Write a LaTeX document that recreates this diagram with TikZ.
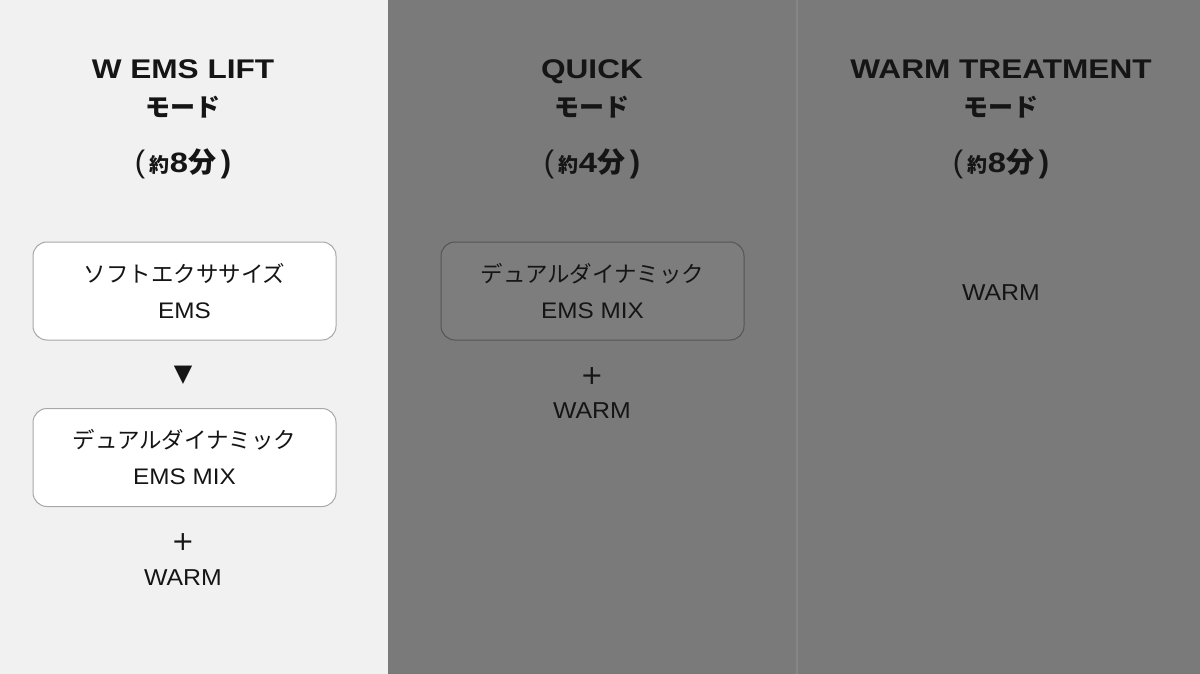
\documentclass[tikz,border=0pt]{standalone}
\usepackage{graphicx}
\usepackage{fontspec}
\setmainfont{Liberation Sans}
\newfontfamily\jp{Noto Sans CJK JP}
\newfontfamily\sym{DejaVu Sans}
\newcommand\hsr[1]{\scalebox{1.08}[1]{#1}}
\newcommand\hsb[1]{\scalebox{1.17}[1]{#1}}
\definecolor{leftbg}{HTML}{F1F1F1}
\definecolor{darkbg}{HTML}{7A7A7A}
\definecolor{divider}{HTML}{868686}
\definecolor{ink}{HTML}{151515}
\definecolor{lightborder}{HTML}{A8A8A8}
\definecolor{darkborder}{HTML}{555555}
\definecolor{darkfill}{HTML}{7D7D7D}
\tikzset{
  title/.style={inner sep=0pt, anchor=base, text=ink, font=\fontsize{27}{27}\selectfont\bfseries},
  jtitle/.style={inner sep=0pt, text=ink, font=\fontsize{25}{25}\selectfont\jp\bfseries},
  body/.style={inner sep=0pt, text=ink, font=\fontsize{23}{23}\selectfont},
  plus/.style={inner sep=0pt, text=ink, font=\fontsize{27}{27}\selectfont\sym},
  modebox/.style={rounded corners=14pt, minimum width=303pt, minimum height=98pt,
    align=center, text=ink, inner sep=0pt, line width=1pt,
    font=\fontsize{22.5}{36}\selectfont},
  lightbox/.style={modebox, draw=lightborder, fill=white},
  darkbox/.style={modebox, draw=darkborder, fill=darkfill},
}
\newcommand\dur[1]{{\fontsize{28}{28}\selectfont{\fontsize{31}{31}\selectfont(}\,{\jp\bfseries\fontsize{20}{20}\selectfont 約}\bfseries\hsb{#1}{\jp\bfseries 分}\,{\fontsize{31}{31}\selectfont)}}}
\begin{document}
\begin{tikzpicture}[x=1pt,y=-1pt]
\useasboundingbox (0,0) rectangle (1200,674);
\fill[leftbg] (0,0) rectangle (388,674);
\fill[darkbg] (388,0) rectangle (1200,674);
\draw[divider, line width=1.2pt] (797,0) -- (797,674);

% column 1
\node[title] (t1) at (183,79) {\hsb{W EMS LIFT}};
\node[jtitle] (m1) at (183,107) {モード};
\node[body] (d1) at (183,164) {\dur{8}};
\node[lightbox] (b1) at (184.5,291) {{\jp ソフトエクササイズ}\\\hsr{EMS}};
\node[inner sep=0pt, text=ink, font=\fontsize{24}{24}\selectfont\sym] (a1) at (183,375) {▼};
\node[lightbox] (b2) at (184.5,457.5) {{\jp デュアルダイナミック}\\\hsr{EMS MIX}};
\node[plus] (p1) at (183,542) {+};
\node[body] (w1) at (183,578) {\hsr{WARM}};

% column 2
\node[title] (t2) at (592,79) {\hsb{QUICK}};
\node[jtitle] (m2) at (592,107) {モード};
\node[body] (d2) at (592,164) {\dur{4}};
\node[darkbox] (b3) at (592.5,291) {{\jp デュアルダイナミック}\\\hsr{EMS MIX}};
\node[plus] (p2) at (592,376) {+};
\node[body] (w2) at (592,411) {\hsr{WARM}};

% column 3
\node[title] (t3) at (1001,79) {\hsb{WARM TREATMENT}};
\node[jtitle] (m3) at (1001,107) {モード};
\node[body] (d3) at (1001,164) {\dur{8}};
\node[body] (w3) at (1001,293) {\hsr{WARM}};
\end{tikzpicture}
\end{document}
